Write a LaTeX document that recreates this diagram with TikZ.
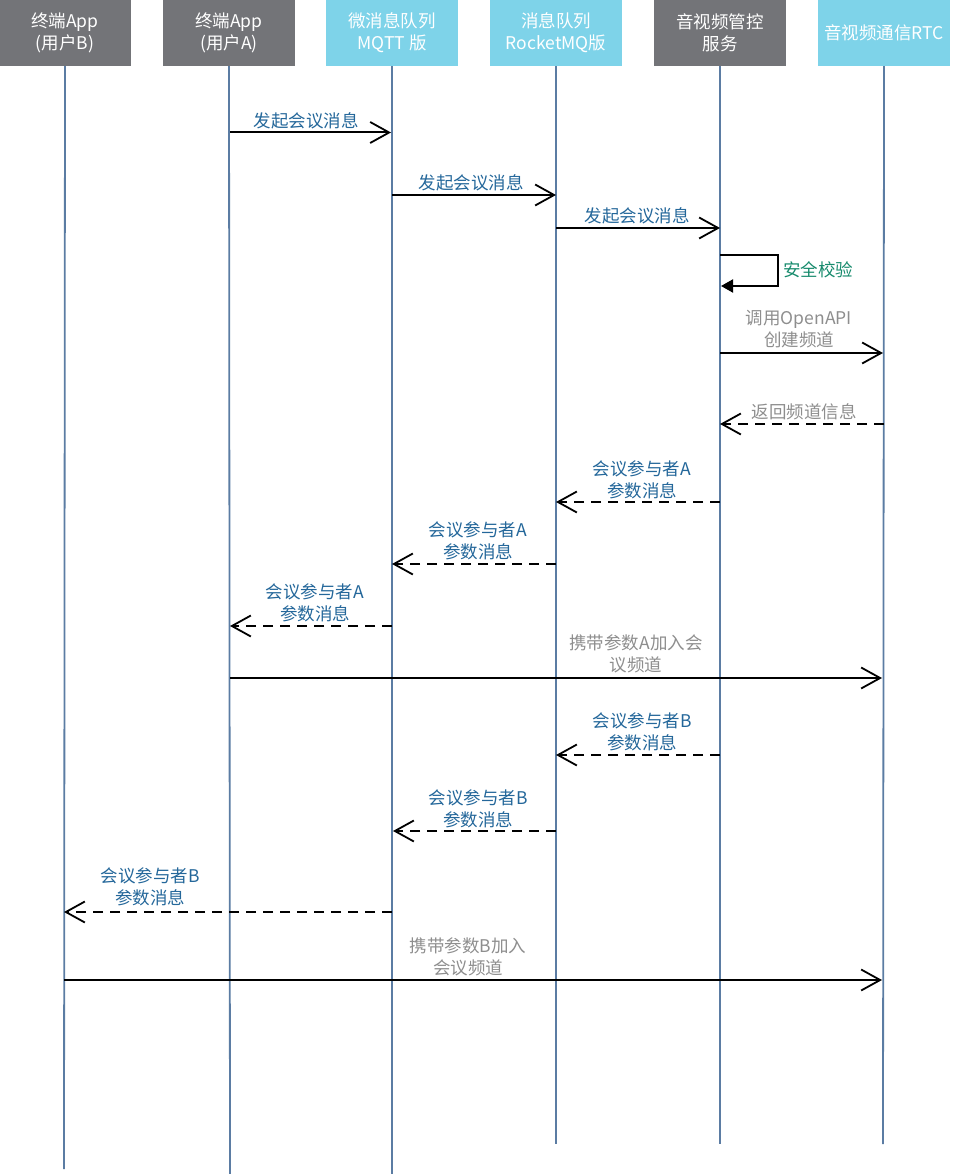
\documentclass[tikz,border=0pt]{standalone}
\usepackage{fontspec}
\setmainfont{Noto Sans CJK SC}
\usetikzlibrary{arrows.meta}
\definecolor{hgray}{HTML}{737478}
\definecolor{hblue}{HTML}{7ED3E9}
\definecolor{life}{HTML}{5B7CA3}
\definecolor{lblue}{HTML}{24679A}
\definecolor{lgreen}{HTML}{168A6C}
\definecolor{lgray}{HTML}{8E8E8E}
\begin{document}
\begin{tikzpicture}[x=1pt,y=-1pt,
  hdr/.style={minimum width=132pt,minimum height=66pt,inner sep=0pt,align=center,text=white,
    font=\fontsize{17.5}{22}\selectfont},
  lifeline/.style={draw=life,line width=1.8pt},
  msg/.style={line width=2pt,-{Straight Barb[length=19pt,width=21pt,line width=1.8pt]}},
  ret/.style={msg,dash pattern=on 10pt off 7pt},
  lbl/.style={align=center,inner sep=0pt,font=\fontsize{17.5}{22}\selectfont},
  lb/.style={lbl,text=lblue},
  lg/.style={lbl,text=lgray},
  lgr/.style={lbl,text=lgreen}]
\useasboundingbox (0,0) rectangle (957,1174);
% headers
\node[hdr,fill=hgray] (h1) at (65,33) {终端App\\(用户B)};
\node[hdr,fill=hgray] (h2) at (229,33) {终端App\\(用户A)};
\node[hdr,fill=hblue] (h3) at (392,33) {微消息队列\\MQTT 版};
\node[hdr,fill=hblue] (h4) at (556,33) {消息队列\\RocketMQ版};
\node[hdr,fill=hgray] (h5) at (720,33) {音视频管控\\服务};
\node[hdr,fill=hblue] (h6) at (884,33) {音视频通信RTC};
% lifeline ends
\coordinate (e1) at (64,1169);
\coordinate (e2) at (230,1174);
\coordinate (e3) at (392,1174);
\coordinate (e4) at (556,1144);
\coordinate (e5) at (720,1144);
\coordinate (e6) at (883,1144);
\draw[lifeline] (h1.south) -- (e1);
\draw[lifeline] (h2.south) -- (e2);
\draw[lifeline] (h3.south) -- (e3);
\draw[lifeline] (h4.south) -- (e4);
\draw[lifeline] (h5.south) -- (e5);
\draw[lifeline] (h6.south) -- (e6);
% message points
\coordinate (m1a) at (230,132.5); \coordinate (m1b) at (391,132.5);
\coordinate (m2a) at (392,195); \coordinate (m2b) at (556,195);
\coordinate (m3a) at (556,228); \coordinate (m3b) at (720,228);
\coordinate (s1) at (720,255); \coordinate (s2) at (778,255);
\coordinate (s3) at (778,286); \coordinate (s4) at (721,286);
\coordinate (m5a) at (720,353); \coordinate (m5b) at (883,353);
\coordinate (m6a) at (884,424); \coordinate (m6b) at (720,424);
\coordinate (m7a) at (720,502); \coordinate (m7b) at (556,502);
\coordinate (m8a) at (556,564); \coordinate (m8b) at (392,564);
\coordinate (m9a) at (392,626); \coordinate (m9b) at (230,626);
\coordinate (m10a) at (230,678); \coordinate (m10b) at (882,678);
\coordinate (m11a) at (720,755); \coordinate (m11b) at (556,755);
\coordinate (m12a) at (556,831); \coordinate (m12b) at (393,831);
\coordinate (m13a) at (392,912); \coordinate (m13b) at (64,912);
\coordinate (m14a) at (64,980); \coordinate (m14b) at (882,980);
% messages
\draw[msg] (m1a) -- (m1b);
\node[lb] (t1) at (306,120.5) {发起会议消息};
\draw[msg] (m2a) -- (m2b);
\node[lb] (t2) at (471,182.5) {发起会议消息};
\draw[msg] (m3a) -- (m3b);
\node[lb] (t3) at (637,215.5) {发起会议消息};
\draw[line width=2pt,-{Triangle[length=12pt,width=13pt]}] (s1) -- (s2) -- (s3) -- (s4);
\node[lgr] (t4) at (818,269.5) {安全校验};
\draw[msg] (m5a) -- (m5b);
\node[lg] (t5) at (799,329.5) {调用OpenAPI\\创建频道};
\draw[ret] (m6a) -- (m6b);
\node[lg] (t6) at (804,412) {返回频道信息};
\draw[ret] (m7a) -- (m7b);
\node[lb] (t7) at (642,480) {会议参与者A\\参数消息};
\draw[ret] (m8a) -- (m8b);
\node[lb] (t8) at (478,540.5) {会议参与者A\\参数消息};
\draw[ret] (m9a) -- (m9b);
\node[lb] (t9) at (315,603) {会议参与者A\\参数消息};
\draw[msg] (m10a) -- (m10b);
\node[lg] (t10) at (636,653.5) {携带参数A加入会\\议频道};
\draw[ret] (m11a) -- (m11b);
\node[lb] (t11) at (642,732) {会议参与者B\\参数消息};
\draw[ret] (m12a) -- (m12b);
\node[lb] (t12) at (478,809) {会议参与者B\\参数消息};
\draw[ret] (m13a) -- (m13b);
\node[lb] (t13) at (150,887) {会议参与者B\\参数消息};
\draw[msg] (m14a) -- (m14b);
\node[lg] (t14) at (468,956.5) {携带参数B加入\\会议频道};
\end{tikzpicture}
\end{document}
